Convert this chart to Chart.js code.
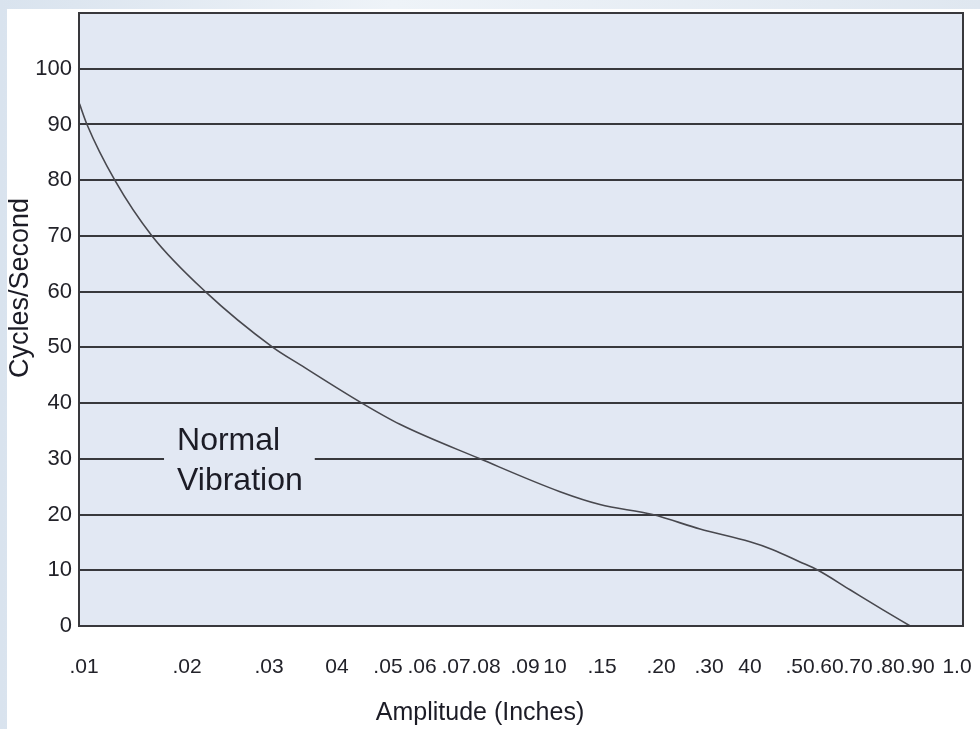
<!DOCTYPE html>
<html>
<head>
<meta charset="utf-8">
<script src="https://cdn.jsdelivr.net/npm/chart.js@4/dist/chart.umd.min.js"></script>
<style>
  html, body { margin: 0; padding: 0; }
  body {
    width: 980px; height: 729px; overflow: hidden; position: relative;
    background: linear-gradient(90deg, #d9e3ee 0%, #eef3f8 40%, #dfe7f0 100%);
  }
  .card { position: absolute; left: 7px; top: 9px; right: 0; bottom: 0; background: #fff; }
  #wrap { position: absolute; left: 0; top: 0; width: 980px; height: 729px; }
</style>
</head>
<body>
<div class="card"></div>
<div id="wrap"><canvas id="vibChart" width="980" height="729"></canvas></div>
<script>
// amplitude axis ticks (inches) and how they are printed
const X_TICKS = [0.01, 0.02, 0.03, 0.04, 0.05, 0.06, 0.07, 0.08, 0.09, 0.10,
                 0.15, 0.20, 0.30, 0.40, 0.50, 0.60, 0.70, 0.80, 0.90, 1.0];
const X_TICK_LABELS = ['.01', '.02', '.03', '04', '.05', '.06', '.07', '.08', '.09', '10',
                       '.15', '.20', '.30', '40', '.50', '.60', '.70', '.80', '.90', '1.0'];
// where each tick sits along the (hand drawn, uneven) amplitude axis, 0..1
const X_TICK_POS = [0.0057, 0.1222, 0.2149, 0.2919, 0.3495, 0.3880, 0.4265, 0.4604, 0.5045, 0.5385,
                    0.5916, 0.6584, 0.7127, 0.7590, 0.8156, 0.8484, 0.8812, 0.9174, 0.9514, 0.9932];

const Y_TICKS = [0, 10, 20, 30, 40, 50, 60, 70, 80, 90, 100];

// the curve
const AMPLITUDE = [0.0097, 0.0102, 0.0123, 0.0158, 0.0219, 0.0305, 0.0342, 0.0446, 0.0533, 0.0779,
                   0.1044, 0.1474, 0.192, 0.278, 0.40, 0.443, 0.50, 0.56, 0.671, 0.777, 0.866];
const CYCLES = [93.7, 90, 80, 70, 60, 50, 46.9, 40, 36.2, 30,
                24.1, 21.8, 20, 17.4, 15.1, 13.7, 11.5, 10, 6.5, 2.9, 0];

const NOTE_LINES = ['Normal', 'Vibration'];
const NOTE_AT = { x: 0.0187, y: 30 };

// piecewise log mapping between the printed ticks
function fracFor(v) {
  const n = X_TICKS.length;
  let i = 0;
  if (v >= X_TICKS[n - 1]) i = n - 2;
  else while (i < n - 2 && v > X_TICKS[i + 1]) i++;
  const a = Math.log(X_TICKS[i]), b = Math.log(X_TICKS[i + 1]);
  const t = (Math.log(v) - a) / (b - a);
  return X_TICK_POS[i] + t * (X_TICK_POS[i + 1] - X_TICK_POS[i]);
}
function valueForFrac(f) {
  const n = X_TICKS.length;
  let i = 0;
  if (f >= X_TICK_POS[n - 1]) i = n - 2;
  else while (i < n - 2 && f > X_TICK_POS[i + 1]) i++;
  const t = (f - X_TICK_POS[i]) / (X_TICK_POS[i + 1] - X_TICK_POS[i]);
  const a = Math.log(X_TICKS[i]), b = Math.log(X_TICKS[i + 1]);
  return Math.exp(a + t * (b - a));
}

class PinnedScale extends Chart.LinearScale {
  buildTicks() {
    return X_TICKS.map(v => ({ value: v }));
  }
  getPixelForValue(v) {
    return this.left + this.width * fracFor(v);
  }
  getValueForPixel(p) {
    return valueForFrac((p - this.left) / this.width);
  }
}
PinnedScale.id = 'pinned';
Chart.register(PinnedScale);

const PLOT_BG = '#e2e8f3';
const INK = '#38383c';

const decor = {
  id: 'decor',
  beforeDraw(chart) {
    const { ctx, chartArea: a } = chart;
    ctx.save();
    ctx.fillStyle = PLOT_BG;
    ctx.fillRect(a.left, a.top, a.right - a.left, a.bottom - a.top);
    ctx.restore();
  },
  beforeDatasetsDraw(chart) {
    const { ctx, scales } = chart;
    const x = scales.x.getPixelForValue(NOTE_AT.x);
    const y = scales.y.getPixelForValue(NOTE_AT.y);
    ctx.save();
    ctx.font = '32px "Liberation Sans", Arial, sans-serif';
    const w = Math.max(...NOTE_LINES.map(s => ctx.measureText(s).width));
    ctx.fillStyle = PLOT_BG;
    ctx.fillRect(x - 13, y - 5, w + 25, 10);
    ctx.fillStyle = '#1c1c26';
    ctx.textBaseline = 'alphabetic';
    ctx.fillText(NOTE_LINES[0], x, y - 9);
    ctx.fillText(NOTE_LINES[1], x, y + 31);
    ctx.restore();
  },
  afterDraw(chart) {
    const { ctx, chartArea: a } = chart;
    ctx.save();
    ctx.strokeStyle = INK;
    ctx.lineWidth = 2;
    ctx.strokeRect(a.left, a.top, a.right - a.left, a.bottom - a.top);

    ctx.fillStyle = '#1c1c26';
    ctx.textAlign = 'center';
    ctx.textBaseline = 'middle';
    ctx.font = '25px "Liberation Sans", Arial, sans-serif';
    ctx.fillText('Amplitude (Inches)', 480, 713);
    ctx.translate(21, 288);
    ctx.rotate(-Math.PI / 2);
    ctx.font = '27px "Liberation Sans", Arial, sans-serif';
    ctx.fillText('Cycles/Second', 0, 0);
    ctx.restore();
  }
};

const ctx = document.getElementById('vibChart').getContext('2d');
new Chart(ctx, {
  type: 'line',
  data: {
    datasets: [{
      data: AMPLITUDE.map((a, i) => ({ x: a, y: CYCLES[i] })),
      borderColor: '#48484e',
      borderWidth: 1.6,
      pointRadius: 0,
      fill: false,
      cubicInterpolationMode: 'monotone'
    }]
  },
  options: {
    responsive: false,
    animation: false,
    devicePixelRatio: 1,
    layout: { padding: { top: 13, right: 17, left: 0, bottom: 0 } },
    plugins: { legend: { display: false }, tooltip: { enabled: false } },
    scales: {
      x: {
        type: 'pinned',
        min: 0.0097,
        max: 1.0,
        grid: { display: false, drawTicks: false },
        border: { display: false },
        ticks: {
          autoSkip: false,
          maxRotation: 0,
          minRotation: 0,
          padding: 29,
          color: '#222229',
          font: { family: '"Liberation Sans", Arial, sans-serif', size: 21 },
          callback: (v, i) => X_TICK_LABELS[i]
        },
        afterFit: s => { s.height = 103; s.paddingLeft = 0; s.paddingRight = 0; }
      },
      y: {
        min: 0,
        max: 110,
        grid: { color: INK, lineWidth: 2, drawTicks: false },
        border: { display: false },
        afterBuildTicks: s => { s.ticks = Y_TICKS.concat([110]).map(v => ({ value: v })); },
        ticks: {
          padding: 7,
          color: '#222229',
          font: { family: '"Liberation Sans", Arial, sans-serif', size: 22 },
          callback: v => (v === 110 ? '' : v)
        },
        afterFit: s => { s.width = 79; s.paddingTop = 0; s.paddingBottom = 0; }
      }
    }
  },
  plugins: [decor]
});
</script>
</body>
</html>
